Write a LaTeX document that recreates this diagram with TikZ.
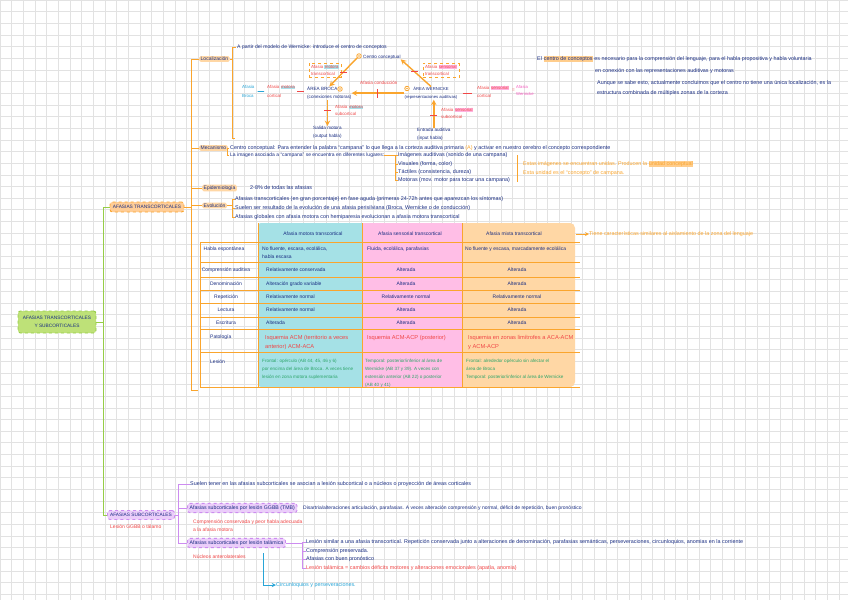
\documentclass[tikz,border=0pt]{standalone}
\usepackage{fontspec}
\setmainfont{Liberation Sans}
\usetikzlibrary{arrows,calc}

\definecolor{gridgray}{RGB}{226,226,226}
\definecolor{ink}{RGB}{25,45,130}
\definecolor{redink}{RGB}{240,70,70}
\definecolor{pinkink}{RGB}{245,90,190}
\definecolor{cyanink}{RGB}{40,165,215}
\definecolor{greenink}{RGB}{45,165,105}
\definecolor{orangeink}{RGB}{250,165,45}
\definecolor{mapgreen}{RGB}{150,205,70}
\definecolor{rootfill}{RGB}{190,225,120}
\definecolor{transfill}{RGB}{255,205,150}
\definecolor{tagfill}{RGB}{255,215,165}
\definecolor{mappurple}{RGB}{205,140,240}
\definecolor{subfill}{RGB}{235,205,250}
\definecolor{tabcyan}{RGB}{165,225,230}
\definecolor{tabpink}{RGB}{255,190,230}
\definecolor{taborange}{RGB}{255,215,165}
\definecolor{hlcyanc}{RGB}{170,225,235}
\definecolor{hlpinkc}{RGB}{255,180,225}
\definecolor{hlorangec}{RGB}{255,205,140}

\newcommand{\hlc}[1]{{\setlength{\fboxsep}{0.4pt}\colorbox{hlcyanc}{#1}}}
\newcommand{\hlp}[1]{{\setlength{\fboxsep}{0.4pt}\colorbox{hlpinkc}{#1}}}
\newcommand{\hlo}[1]{{\setlength{\fboxsep}{0.4pt}\colorbox{hlorangec}{#1}}}

\begin{document}
\begin{tikzpicture}[x=1pt,y=-1pt,>=stealth,
  txt/.style={font=\fontsize{5.4}{8.3}\selectfont,inner sep=0pt,anchor=west,text=ink,align=left},
  dgtxt/.style={txt,font=\fontsize{4.6}{8.3}\selectfont},
  redtxt/.style={txt,text=redink},
  grntxt/.style={txt,text=greenink,font=\fontsize{4.6}{8.3}\selectfont},
  orgtxt/.style={txt,text=orangeink},
  celltxt/.style={txt,font=\fontsize{5}{8.3}\selectfont},
  labtag/.style={txt,font=\fontsize{5}{6}\selectfont,fill=tagfill,rounded corners=1.5pt,inner xsep=1.5pt,inner ysep=1pt},
  rootbox/.style={draw=mapgreen,dashed,line width=0.9pt,fill=rootfill,rounded corners=2.5pt,
    font=\fontsize{4.8}{8}\selectfont,text=ink,align=center,inner sep=2pt},
  transbox/.style={rootbox,draw=orangeink,fill=transfill},
  subbox/.style={rootbox,draw=mappurple,fill=subfill},
  pbox/.style={subbox,anchor=west,font=\fontsize{5.2}{6}\selectfont,inner sep=2.2pt},
  dbox/.style={draw=orangeink,dashed,line width=0.7pt,inner sep=2pt,align=left,
    font=\fontsize{4.4}{7}\selectfont,text=redink},
  ctrmark/.style={circle,draw=orangeink,line width=0.8pt,fill=white,minimum size=4.5pt,inner sep=0pt},
  oarrow/.style={->,draw=orangeink,line width=1.4pt},
  gline/.style={draw=mapgreen,line width=0.9pt},
  oline/.style={draw=orangeink,line width=0.8pt},
  pline/.style={draw=mappurple,line width=0.8pt},
  hbar/.style={fill=redink,minimum width=7pt,minimum height=0.8pt,inner sep=0pt},
  vbar/.style={fill=redink,minimum width=0.8pt,minimum height=9pt,inner sep=0pt},
  tabline/.style={draw=orangeink,line width=0.6pt},
]

\useasboundingbox (0,0) rectangle (848,600);
\fill[white] (0,0) rectangle (848,600);

% grid paper
\foreach \k in {0,...,73}
{
  \draw[gridgray,line width=0.5pt] ({\k*11.65},0) -- ({\k*11.65},600);
}
\foreach \k in {0,...,52}
{
  \draw[gridgray,line width=0.5pt] (0,{\k*11.65}) -- (848,{\k*11.65});
}

% main branches
\node[rootbox,minimum width=78pt,minimum height=22pt] (root) at (57,322) {AFASIAS TRANSCORTICALES\\Y SUBCORTICALES};
\node[transbox,minimum width=74pt,minimum height=10pt,inner sep=1pt] (trans) at (147,207) {AFASIAS TRANSCORTICALES};
\node[subbox,minimum width=67pt,minimum height=9pt,inner sep=1pt] (sub) at (141,515) {AFASIAS SUBCORTICALES};
\node[redtxt,font=\fontsize{5}{6}\selectfont] (sublab) at (110,527) {Lesión GGBB o tálamo};

\draw[gline] (root.east) -- ++(7,0) coordinate (gj);
\draw[gline] (gj) |- (trans.west);
\draw[gline] (gj) |- (sub.west);

% transcortical sub-branches
\node[labtag] (loc) at (199,59) {Localización};
\node[labtag] (mec) at (199,148) {Mecanismo};
\node[labtag] (epi) at (202,188) {Epidemiología};
\node[labtag] (evo) at (202,205.5) {Evolución};
\coordinate (tabend) at (198,390);

\draw[oline] (trans.east) -- ++(7,0) coordinate (oj);
\foreach \n in {loc,mec,epi,evo}
{
  \draw[oline] (oj) |- (\n.west);
}
\draw[oline] (oj) |- (tabend);

% localizacion
\node[txt,font=\fontsize{5.1}{6}\selectfont] (partir) at (237,47) {A partir del modelo de Wernicke: introduce el centro de conceptos};
\coordinate (locbr) at (232,59);
\draw[oline] (loc.east) -- (locbr);
\draw[oline] ($(partir.west)+(-1.5,0)$) -| (232,138) -- (235,138);

\node[ctrmark] (mkc) at (359,56) {};
\fill[orangeink] (mkc.center) circle (0.9);
\node[dgtxt] (centro) at (363,57) {Centro conceptual};

\node[dgtxt,anchor=north west] (broca) at (307,86.5) {ÁREA BROCA\\(conexiones motoras)};
\node[ctrmark] (mkb) at (340,89) {};
\fill[orangeink] (mkb.center) circle (0.9);
\node[dgtxt,anchor=north,align=center,font=\fontsize{4.2}{8.3}\selectfont] (wern) at (431,86.5) {ÁREA WERNICKE\\(representaciones auditivas)};
\node[ctrmark] (mkw) at (407,88.5) {};
\fill[orangeink] (mkw.center) circle (0.9);

\node[dbox] (amt) at (325,70) {Afasia \hlc{motora}\\transcortical};
\node[dbox] (ast) at (441,70.5) {Afasia \hlp{sensorial}\\transcortical};

\draw[oarrow] (mkc.south west) -- node[hbar,pos=0.5]{} (broca.north);
\draw[oarrow] (wern.north) -- node[hbar,pos=0.55]{} (centro.south east);
\draw[oarrow] (wern.west) -- node[vbar,pos=0.52]{} (wern.west -| broca.east);
\node[redtxt,font=\fontsize{4.6}{6}\selectfont] (acond) at (360,83) {Afasia conducción};

\node[dgtxt,anchor=north west] (salida) at (313,126) {Salida motora\\(output habla)};
\node[dgtxt,anchor=north west] (entr) at (417,127.5) {Entrada auditiva\\(input habla)};
\draw[oarrow] (broca.south -| salida.north) -- node[hbar,pos=0.4]{} (salida.north);
\draw[oarrow] (entr.north) -- node[hbar,pos=0.45]{} (entr.north |- wern.south);
\node[redtxt,anchor=north west,font=\fontsize{4.4}{7}\selectfont] (ams) at (335,105.5) {Afasia \hlc{motora}\\subcortical};
\node[redtxt,anchor=north west,font=\fontsize{4.4}{7}\selectfont] (ass) at (441,107.5) {Afasia \hlp{sensorial}\\subcortical};

\node[dgtxt,anchor=north west,text=cyanink,font=\fontsize{4.4}{8.3}\selectfont] (afb) at (242,85.5) {Afasia\\Broca};
\node[redtxt,anchor=north west,font=\fontsize{4.4}{8.3}\selectfont] (amc) at (267,85.5) {Afasia \hlc{motora}\\cortical};
\node[redtxt,anchor=north west,font=\fontsize{4.4}{8.3}\selectfont] (asc) at (477,85.5) {Afasia \hlp{sensorial}\\cortical};
\node[redtxt,font=\fontsize{4.6}{6}\selectfont] (igual) at (512,90) {=};
\node[dgtxt,anchor=north west,text=pinkink,font=\fontsize{4.2}{7}\selectfont] (afw) at (516,85.5) {Afasia\\Wernicke};
\draw[cyanink,line width=0.8pt,shorten <=3pt,shorten >=3pt] (afb.east) -- (amc.west);
\draw[redink,line width=0.8pt,shorten <=2pt,shorten >=3pt] (amc.east) -- (amc.east -| broca.west);
\draw[redink,line width=0.8pt,shorten <=5pt,shorten >=5pt] (wern.east) -- (wern.east -| asc.west);

% centro de conceptos (nota)
\node[txt] (cc1) at (537,59) {El \hlo{centro de conceptos} es necesario para la comprensión del lenguaje, para el habla propositiva y habla voluntaria};
\node[txt] (cc2) at (595,71) {en conexión con las representaciones auditivas y motoras};
\node[txt] (cc3) at (597,83) {Aunque se sabe esto, actualmente concluimos que el centro no tiene una única localización, es la};
\node[txt] (cc4) at (597,93) {estructura combinada de múltiples zonas de la corteza};

% mecanismo
\node[txt] (mec1) at (230,148) {Centro conceptual: Para entender la palabra “campana” lo que llega a la corteza auditiva primaria \textcolor{orangeink}{(A)} y activar en nuestro cerebro el concepto correspondiente};
\node[txt,font=\fontsize{5}{6}\selectfont] (mec2) at (230,155.5) {La imagen asociada a “campana” se encuentra en diferentes lugares:};
\draw[oline] (mec.east) -- ($(mec1.west)+(-3,0)$);
\draw[oline] ($(mec1.west)+(-1.5,0)$) -| ($(mec2.west)+(-3,0)$) -- ($(mec2.west)+(-1.5,0)$);

\node[txt] (im1) at (398,155.5) {Imágenes auditivas (sonido de una campana)};
\node[txt] (im2) at (398,164) {Visuales (forma, color)};
\node[txt] (im3) at (398,172) {Táctiles (consistencia, dureza)};
\node[txt] (im4) at (398,180) {Motoras (mov. motor para tocar una campana)};
\coordinate (imb) at (395,155.5);
\draw[oline] (mec2.east) -- (imb) |- (im4.west);
\foreach \k in {1,2,3}
{
  \draw[oline] (imb |- im\k.west) -- (im\k.west);
}
\draw[oline] (517,155) -- (517,182);
\node[orgtxt] (un1) at (523,164) {Estas imágenes se encuentran unidas. Producen la \hlo{unidad conceptual}};
\node[orgtxt] (un2) at (523,173) {Esta unidad es el “concepto” de campana.};

% epidemiologia y evolucion
\node[txt] (epi1) at (250,188) {2-8\% de todas las afasias};
\node[txt] (ev1) at (235,199) {Afasias transcorticales (en gran porcentaje) en fase aguda (primeras 24-72h antes que aparezcan los síntomas)};
\node[txt] (ev2) at (235,208) {Suelen ser resultado de la evolución de una afasia perisilviana (Broca, Wernicke o de conducción)};
\node[txt] (ev3) at (235,217.5) {Afasias globales con afasia motora con hemiparesia evolucionan a afasia motora transcortical};
\draw[oline] (evo.east) -- (232,205.5);
\draw[oline] ($(ev1.west)+(-3,0)$) -- ($(ev3.west)+(-3,0)$);
\foreach \k in {1,2,3}
{
  \draw[oline] ($(ev\k.west)+(-3,0)$) -- (ev\k.west);
}

% tabla
\fill[taborange,rounded corners=5pt] (456,223) rectangle (575,387);
\fill[tabcyan,rounded corners=3pt] (258,223) rectangle (368,387);
\fill[tabpink] (362,223) rectangle (462,387);
\foreach \ry in {242,262,277,290,303,317,329,352,387}
{
  \draw[tabline] (200,\ry) -- (580,\ry);
}
\draw[tabline] (200,242) -- (200,387);
\foreach \cx in {258,362,462}
{
  \draw[tabline,line width=0.4pt] (\cx,223) -- (\cx,387);
}

\node[celltxt,anchor=center] (h1) at (313,234) {Afasia motora transcortical};
\node[celltxt,anchor=center] (h2) at (410,234) {Afasia sensorial transcortical};
\node[celltxt,anchor=center] (h3) at (514,234) {Afasia mixta transcortical};
\node[orgtxt] (tnote) at (589,234) {Tiene características similares al aislamiento de la zona del lenguaje};
\coordinate (tabr) at (576,234);
\draw[->,orangeink,line width=0.8pt] (tabr) -- (tnote.west);

\node[celltxt,anchor=center] (r0) at (224,249) {Habla espontánea};
\node[celltxt,anchor=north west] (r0a) at (262,246.5) {No fluente, escasa, ecolálica,\\habla escasa};
\node[celltxt] (r0b) at (367,249) {Fluida, ecolálica, parafasias};
\node[celltxt] (r0c) at (465,249) {No fluente y escasa, marcadamente ecolálica};

\foreach \ry/\lab/\ca/\cb/\cc [count=\r] in {
  270/{Comprensión auditiva}/{Relativamente conservada}/{Alterada}/{Alterada},
  284/{Denominación}/{Alteración grado variable}/{Alterada}/{Alterada},
  297/{Repetición}/{Relativamente normal}/{Relativamente normal}/{Relativamente normal},
  310/{Lectura}/{Relativamente normal}/{Alterada}/{Alterada},
  323/{Escritura}/{Alterada}/{Alterada}/{Alterada}}
{
  \node[celltxt,anchor=center] (rl\r) at (226,\ry) {\lab};
  \node[celltxt] (ra\r) at (266,\ry) {\ca};
  \node[celltxt,anchor=center] (rb\r) at (406,\ry) {\cb};
  \node[celltxt,anchor=center] (rc\r) at (517,\ry) {\cc};
}

\node[celltxt] (pat) at (210,337) {Patología};
\node[redtxt,anchor=north west,font=\fontsize{5.7}{9}\selectfont] (pata) at (265,335) {Isquemia ACM (territorio a veces\\anterior) ACM-ACA};
\node[redtxt,anchor=north west,font=\fontsize{5.7}{9}\selectfont] (patb) at (367,335) {Isquemia ACM-ACP (posterior)};
\node[redtxt,anchor=north west,font=\fontsize{5.7}{9}\selectfont] (patc) at (468,335) {Isquemia en zonas limítrofes a ACA-ACM\\y ACM-ACP};

\node[celltxt] (les) at (210,362) {Lesión};
\node[grntxt,anchor=north west] (lesa) at (262,358.5) {Frontal: opérculo (AB 44, 45, 46 y 6)\\por encima del área de Broca. A veces tiene\\lesión en zona motora suplementaria};
\node[grntxt,anchor=north west] (lesb) at (365,358.5) {Temporal: posterior/inferior al área de\\Wernicke (AB 37 y 39). A veces con\\extensión anterior (AB 22) o posterior\\(AB 40 y 41)};
\node[grntxt,anchor=north west] (lesc) at (466,358.5) {Frontal: alrededor opérculo sin afectar el\\área de Broca\\Temporal: posterior/inferior al área de Wernicke};

% subcorticales
\node[txt] (s1) at (190,484) {Suelen tener en las afasias subcorticales se asocian a lesión subcortical o a núcleos o proyección de áreas corticales};
\node[pbox] (box2) at (187,508) {Afasias subcorticales por lesión GGBB (TMB)};
\node[txt,font=\fontsize{5}{6}\selectfont] (s2) at (303,508) {Disartria/alteraciones articulación, parafasias. A veces alteración comprensión y normal, déficit de repetición, buen pronóstico};
\node[redtxt,anchor=north west,font=\fontsize{5}{8.3}\selectfont] (s2r) at (193,519.5) {Comprensión conservada y peor habla adecuada\\a la afasia motora};
\node[pbox] (box3) at (187,543) {Afasias subcorticales por lesión talámica};
\node[redtxt,font=\fontsize{5}{6}\selectfont] (s3r) at (193,557) {Núcleos anterolaterales};

\draw[pline] (sub.east) -- ++(3,0) coordinate (pj);
\draw[pline] (pj) |- (s1.west);
\draw[pline] (pj) |- (box2.west);
\draw[pline] (pj) |- (box3.west);

\node[txt] (bi1) at (306,542.5) {Lesión similar a una afasia transcortical. Repetición conservada junto a alteraciones de denominación, parafasias semánticas, perseveraciones, circunloquios, anomias en la corriente};
\node[txt] (bi2) at (306,551) {Comprensión preservada.};
\node[txt] (bi3) at (306,559.5) {Afasias con buen pronóstico};
\node[redtxt] (bi4) at (306,568) {Lesión talámica = cambios déficits motores y alteraciones emocionales (apatía, anomia)};
\coordinate (b3b) at (302,543);
\draw[pline] (box3.east) -- (b3b);
\draw[pline] (b3b |- bi1.west) |- (bi4.west);
\foreach \k in {1,2,3}
{
  \draw[pline] (b3b |- bi\k.west) -- (bi\k.west);
}

\node[txt,text=cyanink] (circ) at (276,585) {Circunloquios y perseveraciones.};
\coordinate (cyt) at (263,553);
\draw[->,cyanink,line width=0.9pt] (cyt) |- (circ.west);

\end{tikzpicture}
\end{document}
